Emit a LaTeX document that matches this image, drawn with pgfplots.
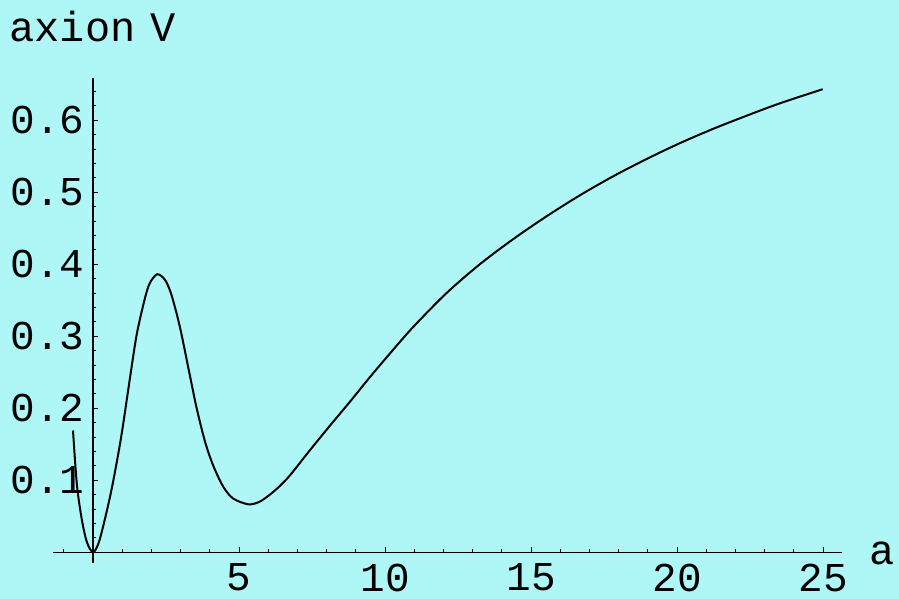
\documentclass[border=0pt]{standalone}
\usepackage{fontspec}
\usepackage{pgfplots}
\pgfplotsset{compat=1.18}
\newfontfamily\mono{Liberation Mono}
\definecolor{bg}{RGB}{174,247,246}
\begin{document}
\begin{tikzpicture}[x=0.5pt,y=0.5pt]
\path[use as bounding box, fill=bg] (0,0) rectangle (899,599);
\begin{axis}[
  at={(26.5pt,18pt)}, anchor=south west,
  scale only axis, width=394.35pt, height=242.65pt,
  axis lines=middle, axis line style={-, line width=0.6pt},
  xmin=-1.37, xmax=25.64, ymin=-0.015, ymax=0.659,
  xtick={5,10,15,20,25}, xticklabels={5,10,15,20,25},
  minor xtick={-1,1,2,3,4,6,7,8,9,11,12,13,14,16,17,18,19,21,22,23,24},
  ytick={0.1,0.2,0.3,0.4,0.5,0.6}, yticklabels={0.1,0.2,0.3,0.4,0.5,0.6},
  minor ytick={0.02,0.04,0.06,0.08,0.12,0.14,0.16,0.18,0.22,0.24,0.26,0.28,0.32,0.34,0.36,0.38,0.42,0.44,0.46,0.48,0.52,0.54,0.56,0.58,0.62,0.64},
  tick align=inside,
  major tick length=2.5pt, minor tick length=1.5pt,
  tick style={line width=0.4pt, black},
  ticklabel style={font=\mono\fontsize{20.5}{25}\selectfont, inner sep=0pt},
  xticklabel style={anchor=north, yshift=-5.5pt},
  yticklabel style={anchor=east, xshift=-4pt},
  clip=false,
]
\addplot[black, line width=1pt, smooth] coordinates {
(-0.685,0.169) (-0.55,0.093) (-0.377,0.044) (-0.205,0.0135) (0,0)
(0.194,0.013) (0.42,0.048) (0.65,0.090) (0.88,0.140) (1.03,0.177)
(1.27,0.243) (1.50,0.303) (1.78,0.353) (1.95,0.374) (2.20,0.386)
(2.47,0.378) (2.69,0.357) (2.98,0.312) (3.32,0.245) (3.55,0.200)
(3.84,0.153) (4.12,0.120) (4.46,0.091) (4.80,0.0745) (5.32,0.0665)
(5.70,0.070) (6.06,0.080) (6.40,0.092) (6.75,0.107) (7.43,0.1417)
(8.12,0.176) (8.80,0.209) (9.49,0.2435) (10.17,0.276) (10.97,0.313)
(12.11,0.360) (13.25,0.400) (14.39,0.4348) (15.54,0.4667) (16.68,0.4958)
(17.82,0.5222) (18.96,0.5461) (20.10,0.5681) (21.24,0.5880) (22.39,0.6063)
(23.53,0.6235) (24.99,0.643)
};
\end{axis}
\node[anchor=base west, inner sep=0pt, font=\mono\fontsize{21}{25}\selectfont] at (9,557) {axion\hspace{0.35em}V};
\node[anchor=base west, inner sep=0pt, font=\mono\fontsize{21}{25}\selectfont] at (869,34) {a};
\end{tikzpicture}
\end{document}
